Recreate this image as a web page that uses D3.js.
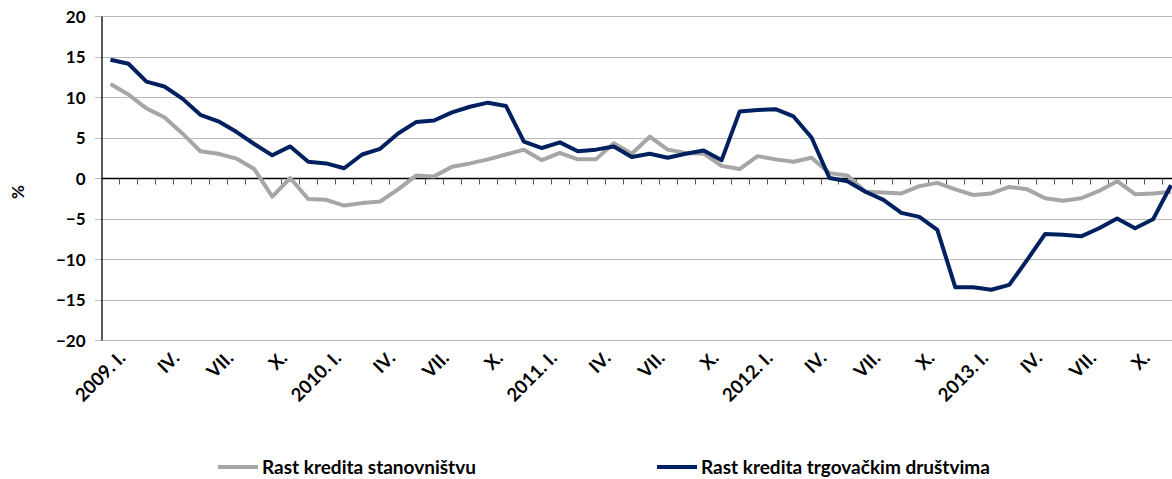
<!DOCTYPE html>
<html>
<head>
<meta charset="utf-8">
<script src="https://cdn.jsdelivr.net/npm/d3@7"></script>
<style>
  body { margin: 0; background: #fff; }
  text { font-family: Lato, "Open Sans", sans-serif; font-weight: bold; fill: #000; }
</style>
</head>
<body>
<svg width="1172" height="479"></svg>
<script>
var romans = ["I.", "II.", "III.", "IV.", "V.", "VI.", "VII.", "VIII.", "IX.", "X.", "XI.", "XII."];
var years = [2009, 2010, 2011, 2012, 2013];

// mjesečne kategorije, 2009. I. do 2013. XII.
var months = [];
years.forEach(function(y) {
  romans.forEach(function(r, i) {
    months.push(i === 0 ? y + ". " + r : r);
  });
});

var stanovnistvo = [11.6, 10.3, 8.6, 7.5, 5.5, 3.3, 3.0, 2.4, 1.1, -2.3,
  0.0, -2.6, -2.7, -3.4, -3.1, -2.9, -1.4, 0.3, 0.2, 1.4,
  1.8, 2.3, 2.9, 3.5, 2.2, 3.1, 2.3, 2.3, 4.3, 3.0,
  5.1, 3.5, 3.1, 3.0, 1.5, 1.1, 2.7, 2.3, 2.0, 2.5,
  0.6, 0.3, -1.7, -1.8, -1.9, -1.0, -0.6, -1.4, -2.1, -1.9,
  -1.1, -1.4, -2.5, -2.8, -2.5, -1.6, -0.4, -2.0, -1.9, -1.7];

var drustva = [14.6, 14.1, 11.9, 11.3, 9.8, 7.8, 7.0, 5.7, 4.2, 2.8,
  3.9, 2.0, 1.8, 1.2, 2.9, 3.6, 5.5, 6.9, 7.1, 8.1,
  8.8, 9.3, 8.9, 4.5, 3.7, 4.4, 3.3, 3.5, 3.9, 2.6,
  3.0, 2.5, 3.0, 3.4, 2.2, 8.2, 8.4, 8.5, 7.6, 5.0,
  0.0, -0.4, -1.7, -2.7, -4.3, -4.8, -6.4, -13.5, -13.5, -13.8,
  -13.2, -10.1, -6.9, -7.0, -7.2, -6.2, -5.0, -6.2, -5.1, -0.9];

var yTicks = [-20, -15, -10, -5, 0, 5, 10, 15, 20];
var seriesNames = ["Rast kredita stanovništvu", "Rast kredita trgovačkim društvima"];
var seriesColors = ["#a6a6a6", "#002060"];

var svg = d3.select("svg");
var plotLeft = 101.5, plotRight = 1180, plotTop = 16, plotBottom = 340;

// nazivi se ponavljaju, pa skala radi s indeksima
var x = d3.scaleBand()
    .domain(d3.range(months.length))
    .range([plotLeft, plotRight]);

var y = d3.scaleLinear()
    .domain([-20, 20])
    .range([plotBottom, plotTop]);

function cx(i) { return x(i) + x.bandwidth() / 2; }

// vodoravne linije mreže
svg.append("g")
  .selectAll("line")
  .data(yTicks)
  .enter().append("line")
    .attr("x1", plotLeft - 6)
    .attr("x2", 1172)
    .attr("y1", function(d) { return Math.round(y(d)) + 0.5; })
    .attr("y2", function(d) { return Math.round(y(d)) + 0.5; })
    .attr("stroke", "#777")
    .attr("stroke-dasharray", "1,1");

// y os
var yAxis = svg.append("g")
    .attr("transform", "translate(" + plotLeft + ",0)")
    .call(d3.axisLeft(y).tickValues(yTicks).tickSize(0).tickPadding(16));
yAxis.select(".domain").attr("stroke", "#000").attr("stroke-width", 1.3);
yAxis.selectAll("text").style("font-size", "17px").attr("dy", "0.36em");

svg.append("text")
    .attr("transform", "translate(24,192) rotate(-90)")
    .style("font-size", "17px")
    .attr("text-anchor", "middle")
    .text("%");

// x os na nuli
var xAxis = svg.append("g")
    .attr("transform", "translate(0," + (Math.round(y(0)) + 0.5) + ")");
xAxis.append("line")
    .attr("x1", plotLeft)
    .attr("x2", 1172)
    .attr("stroke", "#000")
    .attr("stroke-width", 1.3);
xAxis.selectAll(".tick")
  .data(d3.range(1, months.length))
  .enter().append("line")
    .attr("x1", function(i) { return Math.round(x(i)) + 0.5; })
    .attr("x2", function(i) { return Math.round(x(i)) + 0.5; })
    .attr("y1", 0)
    .attr("y2", 6)
    .attr("stroke", "#555");

// oznake mjeseci (svaki treći)
svg.append("g")
  .selectAll("text")
  .data(d3.range(0, months.length, 3))
  .enter().append("text")
    .attr("transform", function(i) {
      return "translate(" + (cx(i) + 7) + ",350) rotate(-45)";
    })
    .attr("text-anchor", "end")
    .attr("dy", "0.7em")
    .style("font-size", "18.5px")
    .text(function(i) { return months[i]; });

var line = d3.line()
    .x(function(d, i) { return cx(i); })
    .y(function(d) { return y(d); });

[stanovnistvo, drustva].forEach(function(s, k) {
  svg.append("path")
      .datum(s)
      .attr("fill", "none")
      .attr("stroke", seriesColors[k])
      .attr("stroke-width", 4)
      .attr("stroke-linejoin", "round")
      .attr("d", line);
});

// legenda
var legendX = [218, 657];
var legend = svg.selectAll(".legend")
    .data(seriesNames)
    .enter().append("g")
    .attr("class", "legend")
    .attr("transform", function(d, i) { return "translate(" + legendX[i] + ",467)"; });

legend.append("line")
    .attr("x1", 0)
    .attr("x2", 40)
    .attr("stroke", function(d, i) { return seriesColors[i]; })
    .attr("stroke-width", 4);

legend.append("text")
    .attr("x", 44)
    .attr("dy", "0.35em")
    .style("font-size", "19px")
    .text(function(d) { return d; });
</script>
</body>
</html>
